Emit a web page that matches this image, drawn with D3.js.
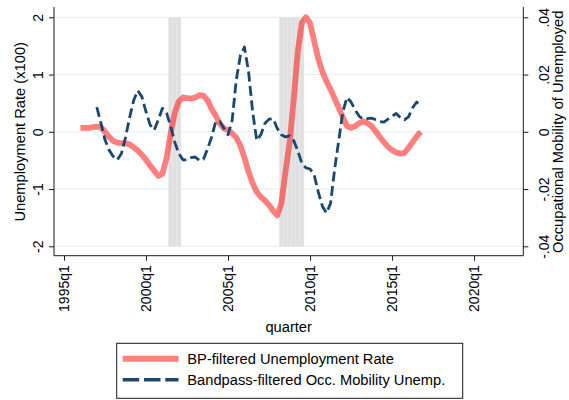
<!DOCTYPE html>
<html>
<head>
<meta charset="utf-8">
<script src="https://cdn.jsdelivr.net/npm/d3@7"></script>
<style>
  html, body { margin: 0; padding: 0; background: #fff; }
  svg { display: block; font-family: "Liberation Sans", Arial, sans-serif; }
</style>
</head>
<body>
<svg id="chart" width="569" height="400"></svg>
<script>
// ---------------- data ----------------
const quarters = [
  "1996q1","1996q2","1996q3","1996q4","1997q1","1997q2","1997q3","1997q4",
  "1998q1","1998q2","1998q3","1998q4","1999q1","1999q2","1999q3","1999q4",
  "2000q1","2000q2","2000q3","2000q4","2001q1","2001q2","2001q3","2001q4",
  "2002q1","2002q2","2002q3","2002q4","2003q1","2003q2","2003q3","2003q4",
  "2004q1","2004q2","2004q3","2004q4","2005q1","2005q2","2005q3","2005q4",
  "2006q1","2006q2","2006q3","2006q4","2007q1","2007q2","2007q3","2007q4",
  "2008q1","2008q2","2008q3","2008q4","2009q1","2009q2","2009q3","2009q4",
  "2010q1","2010q2","2010q3","2010q4","2011q1","2011q2","2011q3","2011q4",
  "2012q1","2012q2","2012q3","2012q4","2013q1","2013q2","2013q3","2013q4",
  "2014q1","2014q2","2014q3","2014q4","2015q1","2015q2","2015q3","2015q4",
  "2016q1","2016q2","2016q3","2016q4"
];

// BP-filtered unemployment rate (x100), left axis
const unempValues = [
  0.07, 0.07, 0.07, 0.08, 0.09, 0.08, 0.00,-0.09,-0.16,-0.19,
 -0.20,-0.20,-0.22,-0.27,-0.33,-0.40,-0.49,-0.59,-0.68,-0.77,
 -0.73,-0.46,-0.03, 0.33, 0.53, 0.60, 0.59, 0.58, 0.60, 0.64,
  0.63, 0.55, 0.40, 0.28, 0.14, 0.06, 0.03,-0.03,-0.10,-0.24,
 -0.45,-0.70,-0.90,-1.05,-1.14,-1.20,-1.28,-1.38,-1.46,-1.25,
 -0.70,-0.20, 0.55, 1.40, 1.90, 2.00, 1.90, 1.58, 1.28, 1.05,
  0.88, 0.74, 0.58, 0.42, 0.25, 0.10, 0.07, 0.10, 0.15, 0.18,
  0.15, 0.10, 0.01,-0.09,-0.18,-0.26,-0.32,-0.36,-0.38,-0.37,
 -0.28,-0.18,-0.08, 0.00
];

// Bandpass-filtered occupational mobility of unemployed, right axis
const mobilityValues = [
  null, null, null, null,
  0.0086, 0.0030,-0.0028,-0.0064,-0.0086,-0.0098,-0.0076,-0.0020, 0.0050, 0.0110,
  0.0144, 0.0122, 0.0070, 0.0024, 0.0006, 0.0042, 0.0082, 0.0066, 0.0020,-0.0036,
 -0.0076,-0.0098,-0.0098,-0.0090,-0.0088,-0.0100,-0.0096,-0.0060,-0.0018, 0.0036,
  0.0036, 0.0012,-0.0010, 0.0040, 0.0180, 0.0266, 0.0296, 0.0210, 0.0070,-0.0030,
 -0.0010, 0.0030, 0.0044, 0.0046, 0.0012,-0.0010,-0.0018,-0.0014,-0.0030,-0.0066,
 -0.0110,-0.0126,-0.0130,-0.0150,-0.0210,-0.0260,-0.0284,-0.0250,-0.0130,-0.0030,
  0.0070, 0.0120, 0.0104, 0.0076, 0.0054, 0.0044, 0.0046, 0.0048, 0.0042, 0.0036,
  0.0034, 0.0044, 0.0054, 0.0064, 0.0050, 0.0042, 0.0052, 0.0084, 0.0104, 0.0088
];

// recession quarters (shaded)
const recessionQuarters = [
  "2001q3","2001q4","2002q1",
  "2008q2","2008q3","2008q4","2009q1","2009q2","2009q3"
];

const xTickLabels = ["1995q1","2000q1","2005q1","2010q1","2015q1","2020q1"];
const yLeftTicks  = [-2, -1, 0, 1, 2];
const yLeftLabels = ["-2", "-1", "0", "1", "2"];
const yRightTicks = [-0.04, -0.02, 0, 0.02, 0.04];
const yRightLabels = ["-.04", "-.02", "0", ".02", ".04"];

const seriesNames = ["BP-filtered Unemployment Rate", "Bandpass-filtered Occ. Mobility Unemp."];

// ---------------- helpers ----------------
function tq(label) {            // Stata %tq index: 1960q1 = 0
  const m = /^(\d{4})q(\d)$/.exec(label);
  return (+m[1] - 1960) * 4 + (+m[2] - 1);
}

// ---------------- layout ----------------
const svg = d3.select("#chart");
const plotL = 54, plotR = 523.3, axisTop = 7, axisBottom = 255.7;
const gridTop = 17.3, gridBottom = 246.3;

const x = d3.scaleLinear().domain([137.56, 252.0]).range([plotL, plotR]);
const yL = d3.scaleLinear().domain([-2, 2]).range([gridBottom, gridTop]);
const yR = d3.scaleLinear().domain([-0.04, 0.04]).range([gridBottom, gridTop]);

const FF = "'Liberation Sans', Arial, sans-serif";
const FONT = 14, TITLE = 14.7;
const navy = "#1a476f";

// gridlines
svg.append("g").selectAll("line").data(yLeftTicks).join("line")
  .attr("x1", plotL).attr("x2", plotR)
  .attr("y1", d => yL(d)).attr("y2", d => yL(d))
  .attr("stroke", "#e4eef0").attr("stroke-width", 1);

// recession shading
svg.append("g").selectAll("rect").data(recessionQuarters).join("rect")
  .attr("x", d => x(tq(d) - 0.5))
  .attr("width", d => x(tq(d) + 0.5) - x(tq(d) - 0.5))
  .attr("y", yL(2)).attr("height", yL(-2) - yL(2))
  .attr("fill", "#e0e0e0").attr("stroke", "#e8e8e8").attr("stroke-width", 0.6);

// series
const redData = quarters.map((q, i) => ({ q: tq(q), v: unempValues[i] }));
const blueData = quarters.map((q, i) => ({ q: tq(q), v: mobilityValues[i] }));

svg.append("path").datum(redData)
  .attr("d", d3.line().x(d => x(d.q)).y(d => yL(d.v)))
  .attr("fill", "none").attr("stroke", "#ff0000").attr("stroke-opacity", 0.5)
  .attr("stroke-width", 5.8).attr("stroke-linejoin", "round").attr("stroke-linecap", "butt");

svg.append("path").datum(blueData)
  .attr("d", d3.line().defined(d => d.v !== null).x(d => x(d.q)).y(d => yR(d.v)))
  .attr("fill", "none").attr("stroke", navy)
  .attr("stroke-width", 2.8).attr("stroke-dasharray", "10,4.5").attr("stroke-linejoin", "round");

// axes
const axisColor = "#1a1a1a";

const leftAxis = svg.append("g").attr("transform", `translate(${plotL},0)`)
  .call(d3.axisLeft(yL).tickValues(yLeftTicks).tickSize(5)
    .tickFormat((d, i) => yLeftLabels[i]));
leftAxis.attr("font-family", FF);
leftAxis.select(".domain").remove();
leftAxis.selectAll(".tick line").attr("stroke", axisColor);
leftAxis.selectAll(".tick text")
  .attr("x", null).attr("dy", null).attr("text-anchor", "middle")
  .attr("transform", "translate(-11,0) rotate(-90)")
  .attr("font-size", FONT).attr("font-family", FF).attr("fill", "#000");

const rightAxis = svg.append("g").attr("transform", `translate(${plotR},0)`)
  .call(d3.axisRight(yR).tickValues(yRightTicks).tickSize(5)
    .tickFormat((d, i) => yRightLabels[i]));
rightAxis.attr("font-family", FF);
rightAxis.select(".domain").remove();
rightAxis.selectAll(".tick line").attr("stroke", axisColor);
rightAxis.selectAll(".tick text")
  .attr("x", null).attr("dy", null).attr("text-anchor", "middle")
  .attr("transform", "translate(25.5,0) rotate(-90)")
  .attr("font-size", FONT).attr("font-family", FF).attr("fill", "#000");

const bottomAxis = svg.append("g").attr("transform", `translate(0,${axisBottom})`)
  .call(d3.axisBottom(x).tickValues(xTickLabels.map(tq)).tickSize(5)
    .tickFormat((d, i) => xTickLabels[i]));
bottomAxis.attr("font-family", FF);
bottomAxis.select(".domain").remove();
bottomAxis.selectAll(".tick line").attr("stroke", axisColor);
bottomAxis.selectAll(".tick text")
  .attr("y", null).attr("dy", null).attr("text-anchor", "end")
  .attr("transform", "translate(4.5,9.5) rotate(-90)")
  .attr("font-size", FONT).attr("font-family", FF).attr("fill", "#000");

// axis lines
const frame = svg.append("g").attr("stroke", axisColor).attr("stroke-width", 1);
frame.append("line").attr("x1", plotL).attr("x2", plotL).attr("y1", axisTop).attr("y2", axisBottom);
frame.append("line").attr("x1", plotR).attr("x2", plotR).attr("y1", axisTop).attr("y2", axisBottom);
frame.append("line").attr("x1", plotL).attr("x2", plotR).attr("y1", axisBottom).attr("y2", axisBottom);

// axis titles
const midY = (gridTop + gridBottom) / 2;
svg.append("text").attr("transform", `translate(24.5,${midY}) rotate(-90)`)
  .attr("text-anchor", "middle").attr("font-size", TITLE).attr("font-family", FF)
  .text("Unemployment Rate (x100)");
svg.append("text").attr("transform", `translate(563,${midY}) rotate(-90)`)
  .attr("text-anchor", "middle").attr("font-size", TITLE).attr("font-family", FF)
  .text("Occupational Mobility of Unemployed");
svg.append("text").attr("x", (plotL + plotR) / 2).attr("y", 331.5)
  .attr("text-anchor", "middle").attr("font-size", TITLE).attr("font-family", FF)
  .text("quarter");

// legend
const lg = svg.append("g");
lg.append("rect").attr("x", 116.7).attr("y", 343.3).attr("width", 346).attr("height", 55)
  .attr("fill", "#fff").attr("stroke", "#1a1a1a").attr("stroke-width", 1);
const rows = [
  { name: seriesNames[0], y: 358.7, stroke: "#ff0000", op: 0.5, w: 6, dash: null },
  { name: seriesNames[1], y: 379.7, stroke: navy, op: 1, w: 3.6, dash: "16.5,4.8" }
];
rows.forEach(r => {
  lg.append("line").attr("x1", 122.7).attr("x2", 178.5).attr("y1", r.y).attr("y2", r.y)
    .attr("stroke", r.stroke).attr("stroke-opacity", r.op).attr("stroke-width", r.w)
    .attr("stroke-dasharray", r.dash);
  lg.append("text").attr("x", 187.3).attr("y", r.y + 5.2)
    .attr("font-size", TITLE).attr("font-family", FF).text(r.name);
});
</script>
</body>
</html>
